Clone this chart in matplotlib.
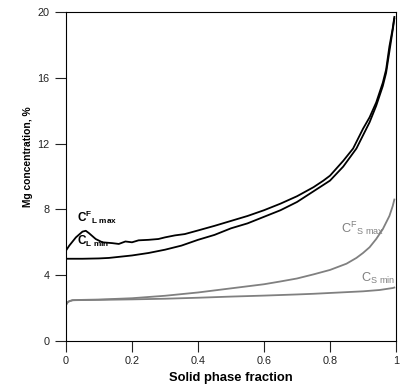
import matplotlib
matplotlib.use("Agg")
import matplotlib.pyplot as plt
import numpy as np

plt.rcParams['font.family'] = ['Liberation Sans', 'DejaVu Sans']
plt.rcParams['mathtext.fontset'] = 'custom'
plt.rcParams['mathtext.rm'] = 'Liberation Sans'
plt.rcParams['mathtext.bf'] = 'Liberation Sans:bold'
plt.rcParams['mathtext.default'] = 'regular'

# C^F_L max (upper black)
x_lmax = [0, 0.01, 0.03, 0.05, 0.06, 0.07, 0.09, 0.11, 0.14, 0.16, 0.18, 0.2, 0.22,
          0.25, 0.28, 0.3, 0.33, 0.36, 0.4, 0.45, 0.5, 0.55, 0.6, 0.65, 0.7, 0.75,
          0.78, 0.8, 0.84, 0.87, 0.9, 0.92, 0.94, 0.95, 0.96, 0.97, 0.98, 0.99, 0.995]
y_lmax = [5.5, 5.8, 6.3, 6.65, 6.7, 6.55, 6.2, 6.0, 5.95, 5.9, 6.05, 6.0, 6.12,
          6.15, 6.2, 6.3, 6.42, 6.5, 6.72, 7.0, 7.3, 7.6, 7.95, 8.35, 8.8, 9.35,
          9.75, 10.05, 10.95, 11.7, 12.9, 13.6, 14.5, 15.1, 15.7, 16.5, 17.9, 19.0, 19.7]

# C_L min (lower black)
x_lmin = [0, 0.05, 0.1, 0.13, 0.2, 0.25, 0.3, 0.35, 0.4, 0.45, 0.5, 0.55, 0.6, 0.65,
          0.7, 0.75, 0.8, 0.84, 0.88, 0.9, 0.92, 0.94, 0.96, 0.97, 0.98, 0.99, 0.995]
y_lmin = [5.0, 5.0, 5.02, 5.05, 5.2, 5.35, 5.55, 5.8, 6.15, 6.45, 6.85, 7.15, 7.55, 7.95,
          8.45, 9.1, 9.75, 10.6, 11.7, 12.5, 13.3, 14.3, 15.5, 16.3, 17.6, 18.9, 19.6]

# C^F_S max (upper grey)
x_smax = [0, 0.005, 0.01, 0.02, 0.05, 0.1, 0.2, 0.3, 0.4, 0.5, 0.6, 0.65, 0.7, 0.75,
          0.8, 0.85, 0.88, 0.9, 0.92, 0.94, 0.96, 0.98, 0.99, 0.995]
y_smax = [2.2, 2.35, 2.42, 2.48, 2.5, 2.52, 2.6, 2.75, 2.95, 3.2, 3.45, 3.62, 3.8, 4.05,
          4.32, 4.7, 5.05, 5.35, 5.7, 6.2, 6.8, 7.6, 8.2, 8.6]

# C_S min (lower grey)
x_smin = [0, 0.005, 0.01, 0.02, 0.1, 0.2, 0.3, 0.4, 0.5, 0.6, 0.7, 0.75, 0.8, 0.9,
          0.95, 0.99, 0.995]
y_smin = [2.2, 2.35, 2.42, 2.48, 2.5, 2.53, 2.57, 2.63, 2.7, 2.76, 2.83, 2.87, 2.92,
          3.02, 3.1, 3.22, 3.25]

xticks = [0, 0.2, 0.4, 0.6, 0.8, 1]
xticklabels = ['0', '0.2', '0.4', '0.6', '0.8', '1']
yticks = [0, 4, 8, 12, 16, 20]
yticklabels = ['0', '4', '8', '12', '16', '20']

fig = plt.figure(figsize=(4.04, 3.86), dpi=100)
ax = fig.add_axes([66/404, 45/386, 330/404, 329/386])

black = '#000000'
grey = '#808080'
ax.plot(x_lmax, y_lmax, color=black, lw=1.3)
ax.plot(x_lmin, y_lmin, color=black, lw=1.3)
ax.plot(x_smax, y_smax, color=grey, lw=1.3)
ax.plot(x_smin, y_smin, color=grey, lw=1.3)

ax.set_xlim(0, 1)
ax.set_ylim(0, 20)
ax.set_xticks(xticks)
ax.set_xticklabels(xticklabels)
ax.set_yticks(yticks)
ax.set_yticklabels(yticklabels)
ax.tick_params(direction='out', length=8, width=0.8, labelsize=7.8, pad=3,
               colors='#222222')
ax.tick_params(axis='y', pad=4)
for s in ax.spines.values():
    s.set_linewidth(0.8)

ax.set_xlabel('Solid phase fraction', fontsize=9.4, fontweight='bold', labelpad=4)
ax.set_ylabel('Mg concentration, %', fontsize=7.4, fontweight='bold')
ax.yaxis.set_label_coords(-0.10, 0.56)

ax.text(0.033, 7.23, r'C$^{\mathbf{F}}$$_{\mathbf{L\ max}}$', fontsize=8.5,
        fontweight='bold', va='baseline', ha='left', color=black)
ax.text(0.033, 5.84, r'C$_{\mathbf{L\ min}}$', fontsize=8.5,
        fontweight='bold', va='baseline', ha='left', color=black)
ax.text(0.832, 6.57, r'C$^{F}$$_{S\ max}$', fontsize=9.2,
        va='baseline', ha='left', color=grey)
ax.text(0.893, 3.59, r'C$_{S\ min}$', fontsize=9.2,
        va='baseline', ha='left', color=grey)

fig.savefig('out.png', dpi=100)
